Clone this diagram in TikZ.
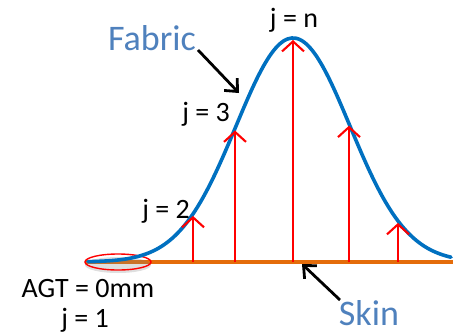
\documentclass[tikz,border=0pt]{standalone}
\usepackage{fontspec}
\setmainfont{Carlito}
\usepackage{tikz}
\usetikzlibrary{arrows.meta,shadows}
\definecolor{fabblue}{HTML}{0070C0}
\definecolor{labblue}{HTML}{4F81BD}
\definecolor{skinorange}{HTML}{E46C0A}

\tikzset{
  declare function={fab(\x)=262-224*exp(-0.5*((\x-293)/57)^2);},
  lab/.style={font=\fontsize{28}{33}\selectfont,anchor=base},
  biglab/.style={font=\fontsize{36}{42}\selectfont,anchor=base,text=labblue},
  uparrow/.style={red,line width=2.1pt,-{Straight Barb[length=10pt,width=22pt]},shorten >=2pt},
  pointer/.style={black,line width=2.8pt,-{Straight Barb[length=10pt,width=18pt]}}
}

\begin{document}
\begin{tikzpicture}[x=1pt,y=-1pt]
  \useasboundingbox (0,0) rectangle (453,333);
  % skin line and fabric curve
  \coordinate (skinL) at (85,262);
  \coordinate (skinR) at (453,262);
  \draw[skinorange,line width=3.8pt] (skinL) -- (skinR);
  \draw[red,line width=1.4pt,drop shadow={shadow xshift=0pt,shadow yshift=-3pt,opacity=0.25}]
    (118,262) ellipse (33 and 8);
  \draw[fabblue,line width=3.6pt,line cap=round] plot[smooth,samples=90,domain=88:451] (\x,{fab(\x)});
  % distance arrows
  \foreach \xx/\nm in {193/two,235/three,293/top,349/four,398/five} {
    \coordinate (base-\nm) at (\xx,262);
    \coordinate (tip-\nm) at (\xx,{fab(\xx)});
    \draw[uparrow] (base-\nm) -- (tip-\nm);
  }
  % labels
  \node[lab] (jn) at (294,27) {j = n};
  \node[lab] (j3) at (206,121) {j = 3};
  \node[lab] (j2) at (166,218) {j = 2};
  \node[lab] (agt) at (88,297) {AGT = 0mm};
  \node[lab] (j1) at (85,327) {j = 1};
  \node[biglab] (fabric) at (152,50) {Fabric};
  \node[biglab] (skin) at (369,325) {Skin};
  \coordinate (fabfrom) at (198,50);
  \coordinate (fabpt) at (239,93);
  \coordinate (skinfrom) at (340,300);
  \coordinate (skinpt) at (302,264);
  \draw[pointer] (fabfrom) -- (fabpt);
  \draw[pointer] (skinfrom) -- (skinpt);
\end{tikzpicture}
\end{document}
